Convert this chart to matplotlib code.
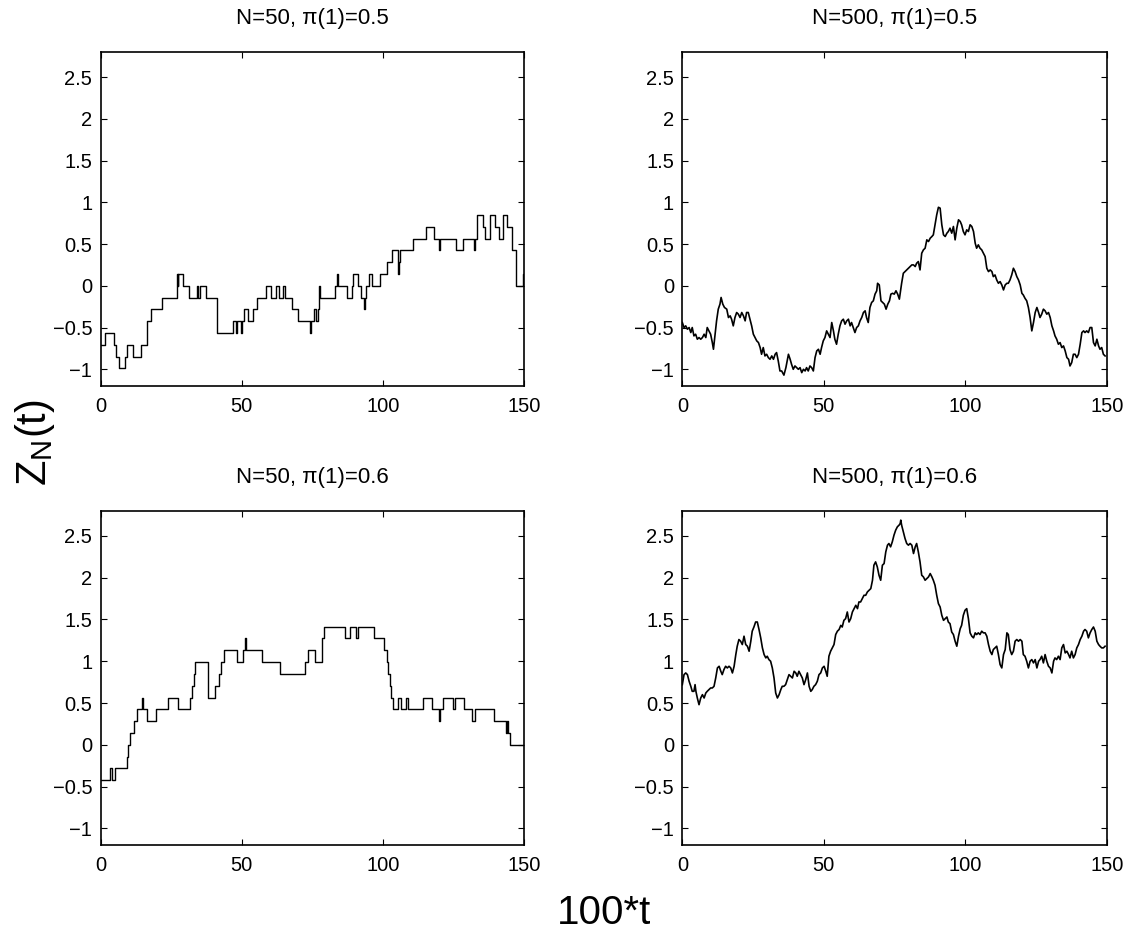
import numpy as np
import matplotlib
matplotlib.use("Agg")
import matplotlib.pyplot as plt
from matplotlib.ticker import FuncFormatter

plt.rcParams["font.family"] = ["Liberation Sans", "DejaVu Sans"]
plt.rcParams["mathtext.fontset"] = "custom"
plt.rcParams["mathtext.rm"] = "Liberation Sans"
plt.rcParams["mathtext.default"] = "regular"

# N=50 paths: jump times (100*t) and integer level k, Z = k / sqrt(N)
TL_T = [0, 1.5, 4.8, 5.3, 6.6, 8.6, 9.2, 11.6, 14.2, 16.5,
        17.8, 21.6, 26.9, 27.3, 27.5, 29.0, 31.2, 34.0, 34.6, 35.2,
        37.2, 41.3, 47.0, 47.8, 48.4, 49.6, 49.9, 50.8, 52.3, 54.0,
        55.3, 58.4, 60.2, 62.1, 63.3, 64.7, 65.2, 67.7, 70.0, 74.0,
        74.5, 75.6, 76.2, 77.0, 77.5, 77.8, 83.0, 83.8, 84.2, 87.1,
        88.9, 89.3, 91.0, 92.4, 93.3, 93.7, 94.0, 95.2, 96.3, 98.9,
        101.3, 103.1, 105.3, 105.8, 106.1, 110.7, 115.2, 118.2, 119.7, 120.1,
        125.9, 128.5, 132.4, 132.8, 133.5, 135.3, 136.0, 137.9, 139.7, 141.2,
        142.6, 144.0, 145.6, 147.3, 149.7]
TL_K = [-5, -4, -5, -6, -7, -6, -5, -6, -5, -3,
        -2, -1, 1, 0, 1, 0, -1, 0, -1, 0,
        -1, -4, -3, -4, -3, -4, -3, -2, -3, -2,
        -1, 0, -1, 0, -1, 0, -1, -2, -3, -4,
        -3, -2, -3, -2, 0, -1, 0, 1, 0, -1,
        0, 1, 0, -1, -2, -1, 0, 1, 0, 1,
        2, 3, 1, 2, 3, 4, 5, 4, 3, 4,
        3, 4, 3, 4, 6, 5, 4, 6, 5, 4,
        6, 5, 3, 0, 1]

BL_T = [0, 3.3, 4.1, 5.1, 9.2, 9.8, 10.4, 11.8, 12.7, 14.5,
        14.9, 16.5, 19.6, 23.7, 27.5, 31.6, 32.2, 32.9, 33.4, 38.1,
        40.5, 41.9, 42.6, 43.6, 48.4, 50.4, 51.1, 51.5, 57.0, 63.7,
        72.4, 73.5, 75.9, 78.5, 79.1, 86.5, 88.5, 90.3, 91.0, 96.9,
        100.5, 101.3, 101.9, 102.4, 102.8, 103.4, 105.5, 106.4, 108.3, 109.0,
        114.3, 117.5, 119.8, 120.4, 121.3, 124.7, 125.5, 128.8, 131.4, 132.8,
        139.3, 143.5, 144.0, 144.4, 144.9]
BL_K = [-3, -2, -3, -2, -1, 0, 1, 2, 3, 4,
        3, 2, 3, 4, 3, 4, 5, 6, 7, 4,
        5, 6, 7, 8, 7, 8, 9, 8, 7, 6,
        7, 8, 7, 9, 10, 9, 10, 9, 10, 9,
        8, 7, 6, 5, 4, 3, 4, 3, 4, 3,
        4, 3, 2, 3, 4, 3, 4, 3, 2, 3,
        2, 1, 2, 1, 0]

# N=500 paths, sampled values of Z_N(t)
TR_T = [0.0, 0.6, 1.2, 1.8, 2.4, 3.0, 3.5, 4.1, 4.7, 5.3,
        5.9, 6.5, 7.1, 7.7, 8.3, 8.8, 9.4, 10.0, 10.6, 11.0,
        11.6, 12.1, 12.7, 13.3, 13.7, 14.3, 14.9, 15.7, 16.3, 16.9,
        17.4, 18.0, 18.6, 19.2, 19.8, 20.4, 21.0, 21.6, 22.2, 22.7,
        23.3, 23.9, 24.5, 25.1, 25.7, 26.3, 26.9, 27.5, 28.0, 28.6,
        29.2, 29.8, 30.4, 31.0, 31.6, 32.2, 32.8, 33.3, 33.9, 34.5,
        35.1, 35.9, 36.6, 37.5, 38.1, 38.6, 39.2, 39.8, 40.4, 41.0,
        41.6, 42.2, 42.8, 43.4, 43.9, 44.5, 45.1, 45.7, 46.3, 46.9,
        47.5, 48.1, 48.7, 49.2, 49.8, 50.4, 51.0, 51.6, 52.2, 52.8,
        53.4, 53.9, 54.5, 55.1, 55.7, 56.3, 56.9, 57.5, 58.1, 58.7,
        59.3, 59.8, 60.4, 61.0, 61.6, 62.2, 62.8, 63.4, 64.0, 64.6,
        65.1, 65.7, 66.3, 66.9, 67.5, 68.1, 68.7, 69.0, 69.6, 70.2,
        70.8, 71.4, 72.0, 72.6, 73.2, 73.7, 74.3, 74.9, 75.5, 76.1,
        76.7,
        77.0, 77.5, 78.1, 78.7, 79.3, 79.9, 80.5, 81.1, 81.7, 82.3,
        82.8, 83.4, 84.0, 84.6, 85.2, 85.8, 86.4, 87.0, 87.6, 88.2,
        88.7, 89.3, 89.9, 90.5, 91.1, 91.7, 92.3, 92.9, 93.5, 94.0,
        94.6, 95.2, 95.8, 96.4, 97.0, 97.6, 98.2, 98.7, 99.3, 99.9,
        100.5, 101.1, 101.7, 102.3, 102.9, 103.5, 104.0, 104.6, 105.2, 105.8,
        106.4, 107.0, 107.6, 108.2, 108.8, 109.4, 109.9, 110.5, 111.1, 111.7,
        112.3, 112.9, 113.5, 114.1, 114.7, 115.2, 115.8, 116.4, 117.0, 117.6,
        118.2, 118.8, 119.4, 120.0, 120.5, 121.1, 121.7, 122.3, 122.9, 123.5,
        124.1, 124.7, 125.3, 125.9, 126.4, 127.0, 127.6, 128.2, 128.8, 129.4,
        130.0, 130.6, 131.2, 131.7, 132.3, 132.9, 133.5, 134.1, 134.7, 135.3,
        135.9, 136.5, 137.0, 137.6, 138.2, 138.8, 139.4, 140.0, 140.6, 141.2,
        141.8, 142.3, 142.9, 143.5, 144.1, 144.7, 145.3, 145.9, 146.5, 147.1,
        147.6, 148.2, 148.8, 149.4]
TR_Z = [-0.44, -0.50, -0.48, -0.52, -0.50, -0.56, -0.50, -0.60, -0.58, -0.64,
        -0.62, -0.64, -0.62, -0.58, -0.62, -0.50, -0.54, -0.58, -0.68, -0.76,
        -0.58, -0.42, -0.28, -0.22, -0.14, -0.22, -0.26, -0.28, -0.38, -0.36,
        -0.40, -0.48, -0.38, -0.32, -0.34, -0.38, -0.32, -0.36, -0.42, -0.32,
        -0.32, -0.40, -0.48, -0.58, -0.62, -0.66, -0.68, -0.74, -0.82, -0.74,
        -0.84, -0.82, -0.86, -0.88, -0.84, -0.88, -0.82, -0.80, -0.90, -1.02,
        -1.02, -1.07, -0.98, -0.82, -0.88, -0.94, -1.00, -0.96, -0.98, -1.00,
        -0.98, -1.04, -1.00, -1.02, -0.98, -1.02, -0.96, -0.98, -1.02, -0.86,
        -0.78, -0.76, -0.82, -0.74, -0.66, -0.62, -0.54, -0.58, -0.62, -0.44,
        -0.54, -0.64, -0.70, -0.58, -0.48, -0.42, -0.40, -0.46, -0.42, -0.40,
        -0.48, -0.44, -0.50, -0.56, -0.50, -0.48, -0.42, -0.38, -0.32, -0.30,
        -0.38, -0.44, -0.26, -0.20, -0.18, -0.10, -0.06, 0.03, 0.01, -0.18,
        -0.20, -0.22, -0.28, -0.22, -0.18, -0.10, -0.09, -0.10, -0.06, -0.10,
        -0.16,
        -0.09, 0.03, 0.15, 0.17, 0.19, 0.21, 0.23, 0.25, 0.25, 0.23,
        0.27, 0.29, 0.19, 0.39, 0.43, 0.45, 0.55, 0.53, 0.57, 0.59,
        0.61, 0.73, 0.85, 0.94, 0.93, 0.73, 0.61, 0.59, 0.63, 0.65,
        0.69, 0.63, 0.71, 0.55, 0.69, 0.79, 0.77, 0.73, 0.65, 0.61,
        0.67, 0.65, 0.73, 0.71, 0.65, 0.51, 0.45, 0.49, 0.45, 0.43,
        0.39, 0.35, 0.21, 0.17, 0.19, 0.17, 0.11, 0.13, 0.07, 0.03,
        0.05, 0.01, -0.05, 0.01, 0.03, 0.03, 0.07, 0.13, 0.21, 0.17,
        0.11, 0.07, 0.01, -0.09, -0.11, -0.15, -0.18, -0.26, -0.38, -0.54,
        -0.44, -0.32, -0.26, -0.32, -0.38, -0.34, -0.28, -0.30, -0.34, -0.32,
        -0.38, -0.48, -0.54, -0.60, -0.64, -0.70, -0.68, -0.74, -0.72, -0.78,
        -0.86, -0.88, -0.96, -0.92, -0.82, -0.82, -0.86, -0.82, -0.70, -0.56,
        -0.54, -0.56, -0.54, -0.56, -0.50, -0.50, -0.68, -0.72, -0.64, -0.72,
        -0.76, -0.74, -0.82, -0.84]

BR_T = [0.0, 0.6, 1.2, 1.8, 2.4, 3.0, 3.5, 4.1, 4.5, 4.8,
        5.3, 5.9, 6.5, 7.1, 7.7, 8.3, 8.8, 9.4, 10.0, 10.6,
        11.2, 11.8, 12.4, 13.0, 13.6, 14.1, 14.7, 15.3, 15.9, 16.5,
        17.1, 17.7, 18.3, 18.9, 19.4, 20.0, 20.6, 21.2, 21.8, 22.4,
        23.0, 23.6, 24.2, 24.7, 25.3, 25.9, 26.5, 27.1, 27.7, 28.3,
        28.9, 29.5, 30.0, 30.6, 31.2, 31.8, 32.4, 33.0, 33.6, 34.2,
        34.8, 35.3, 35.9, 36.5, 37.1, 37.7, 38.3, 38.9, 39.5, 40.1,
        40.6, 41.2, 41.8, 42.4, 43.0, 43.6, 44.2, 44.8, 45.4, 45.9,
        46.5, 47.1, 47.7, 48.3, 48.9, 49.5, 50.1, 50.7, 51.2, 51.8,
        52.4, 53.0, 53.6, 54.2, 54.8, 55.4, 56.0, 56.5, 57.1, 57.7,
        58.3, 58.9, 59.5, 60.1, 60.7, 61.3, 61.9, 62.4, 63.0, 63.6,
        64.2, 64.8, 65.4, 66.0, 66.6, 67.2, 67.7, 68.3, 68.9, 69.5,
        70.1, 70.7, 71.3, 71.9, 72.5, 73.0, 73.6, 74.2, 74.8, 75.4,
        76.0, 76.6,
        77.0, 77.2, 77.5, 78.1, 78.7, 79.3, 79.9, 80.5, 81.1, 81.7, 82.3,
        82.8, 83.4, 84.0, 84.6, 85.2, 85.8, 86.4, 87.0, 87.6, 88.2,
        88.7, 89.3, 89.9, 90.5, 91.1, 91.7, 92.3, 92.9, 93.5, 94.0,
        94.6, 95.2, 95.8, 96.4, 97.0, 97.6, 98.2, 98.7, 99.3, 99.9,
        100.5, 101.1, 101.7, 102.3, 102.9, 103.5, 104.0, 104.6, 105.2, 105.8,
        106.4, 107.0, 107.6, 108.2, 108.8, 109.4, 109.9, 110.5, 111.1, 111.7,
        112.3, 112.9, 113.5, 114.1, 114.7, 115.2, 115.8, 116.4, 117.0, 117.6,
        118.2, 118.8, 119.4, 120.0, 120.5, 121.1, 121.7, 122.3, 122.9, 123.5,
        124.1, 124.7, 125.3, 125.9, 126.4, 127.0, 127.6, 128.2, 128.8, 129.4,
        130.0, 130.6, 131.2, 131.7, 132.3, 132.9, 133.5, 134.1, 134.7, 135.3,
        135.9, 136.5, 137.0, 137.6, 138.2, 138.8, 139.4, 140.0, 140.6, 141.2,
        141.8, 142.3, 142.9, 143.5, 144.1, 144.7, 145.3, 145.9, 146.5, 147.1,
        147.6, 148.2, 148.8, 149.4]
BR_Z = [0.72, 0.84, 0.86, 0.84, 0.76, 0.70, 0.64, 0.64, 0.72, 0.64,
        0.56, 0.48, 0.56, 0.60, 0.56, 0.62, 0.64, 0.66, 0.68, 0.68,
        0.70, 0.80, 0.92, 0.94, 0.88, 0.84, 0.90, 0.94, 0.92, 0.94,
        0.92, 0.86, 0.94, 1.08, 1.18, 1.26, 1.24, 1.20, 1.30, 1.20,
        1.18, 1.12, 1.24, 1.36, 1.41, 1.47, 1.47, 1.38, 1.28, 1.16,
        1.08, 1.04, 1.06, 1.02, 1.00, 0.92, 0.80, 0.62, 0.56, 0.60,
        0.66, 0.70, 0.70, 0.72, 0.78, 0.84, 0.82, 0.80, 0.88, 0.86,
        0.82, 0.88, 0.84, 0.80, 0.72, 0.78, 0.86, 0.70, 0.64, 0.66,
        0.70, 0.72, 0.76, 0.84, 0.86, 0.92, 0.94, 0.88, 0.82, 1.06,
        1.12, 1.16, 1.20, 1.32, 1.36, 1.38, 1.43, 1.41, 1.49, 1.51,
        1.59, 1.47, 1.51, 1.59, 1.63, 1.67, 1.63, 1.71, 1.71, 1.75,
        1.79, 1.79, 1.83, 1.85, 1.87, 1.97, 2.15, 2.19, 2.13, 2.03,
        1.97, 2.15, 2.17, 2.31, 2.39, 2.41, 2.37, 2.43, 2.51, 2.57,
        2.61, 2.63,
        2.65, 2.69, 2.63, 2.55, 2.47, 2.41, 2.39, 2.41, 2.39, 2.29, 2.37,
        2.41, 2.31, 2.19, 2.03, 2.01, 1.97, 1.99, 2.01, 2.05, 2.01,
        1.97, 1.91, 1.79, 1.69, 1.65, 1.55, 1.49, 1.51, 1.53, 1.47,
        1.45, 1.35, 1.32, 1.24, 1.18, 1.30, 1.39, 1.43, 1.55, 1.61,
        1.63, 1.51, 1.34, 1.30, 1.28, 1.34, 1.32, 1.34, 1.32, 1.36,
        1.34, 1.34, 1.30, 1.20, 1.12, 1.08, 1.14, 1.16, 1.18, 1.08,
        0.96, 0.92, 1.08, 1.14, 1.34, 1.32, 1.14, 1.08, 1.12, 1.24,
        1.26, 1.24, 1.26, 1.24, 1.08, 1.06, 1.00, 0.92, 1.00, 1.02,
        0.98, 1.02, 0.92, 1.00, 1.02, 1.06, 0.98, 1.08, 1.00, 0.94,
        0.92, 0.86, 1.00, 1.04, 1.02, 1.06, 1.02, 1.16, 1.20, 1.10,
        1.12, 1.08, 1.04, 1.12, 1.04, 1.08, 1.16, 1.20, 1.26, 1.30,
        1.36, 1.38, 1.36, 1.28, 1.34, 1.38, 1.41, 1.36, 1.24, 1.20,
        1.18, 1.16, 1.16, 1.18]

TITLES = ["N=50, \u03c0(1)=0.5", "N=500, \u03c0(1)=0.5",
          "N=50, \u03c0(1)=0.6", "N=500, \u03c0(1)=0.6"]
X_TICKS = [0, 50, 100, 150]
Y_TICKS = [-1, -0.5, 0, 0.5, 1, 1.5, 2, 2.5]
T_END = 150


def style_axes(ax, title):
    ax.set_xlim(0, T_END)
    ax.set_ylim(-1.2, 2.8)
    ax.set_xticks(X_TICKS)
    ax.set_yticks(Y_TICKS)
    ax.yaxis.set_major_formatter(
        FuncFormatter(lambda v, p: f"{v:g}".replace("-", "\u2212")))
    ax.tick_params(axis="both", direction="in", top=True, right=True,
                   length=4.5, width=0.8, labelsize=14.5, colors="black")
    ax.tick_params(axis="x", pad=8)
    ax.tick_params(axis="y", pad=6)
    for s in ax.spines.values():
        s.set_linewidth(1.2)
    ax.text(0.5, 1.099, title, transform=ax.transAxes,
            ha="center", va="center", fontsize=16)


def step_path(ax, times, levels, n):
    x = list(times) + [T_END]
    k = list(levels) + [levels[-1]]
    ax.plot(x, np.array(k) / np.sqrt(n), color="black", lw=1.0,
            drawstyle="steps-post")


fig = plt.figure(figsize=(11.34, 9.31), dpi=100)
ax_tl = fig.add_axes([0.0888, 0.5854, 0.3733, 0.3588])
ax_tr = fig.add_axes([0.6017, 0.5854, 0.3743, 0.3588])
ax_bl = fig.add_axes([0.0888, 0.0924, 0.3733, 0.3588])
ax_br = fig.add_axes([0.6017, 0.0924, 0.3743, 0.3588])

step_path(ax_tl, TL_T, TL_K, 50)
ax_tr.plot(TR_T, TR_Z, color="black", lw=1.2)
step_path(ax_bl, BL_T, BL_K, 50)
ax_br.plot(BR_T, BR_Z, color="black", lw=1.2)

for ax, title in zip([ax_tl, ax_tr, ax_bl, ax_br], TITLES):
    style_axes(ax, title)

fig.text(0.031, 0.525, "Z$_N$(t)", rotation=90, ha="center", va="center",
         fontsize=30)
fig.text(0.5326, 0.0193, "100*t", ha="center", va="center", fontsize=29)

fig.savefig("out.png", dpi=100)
